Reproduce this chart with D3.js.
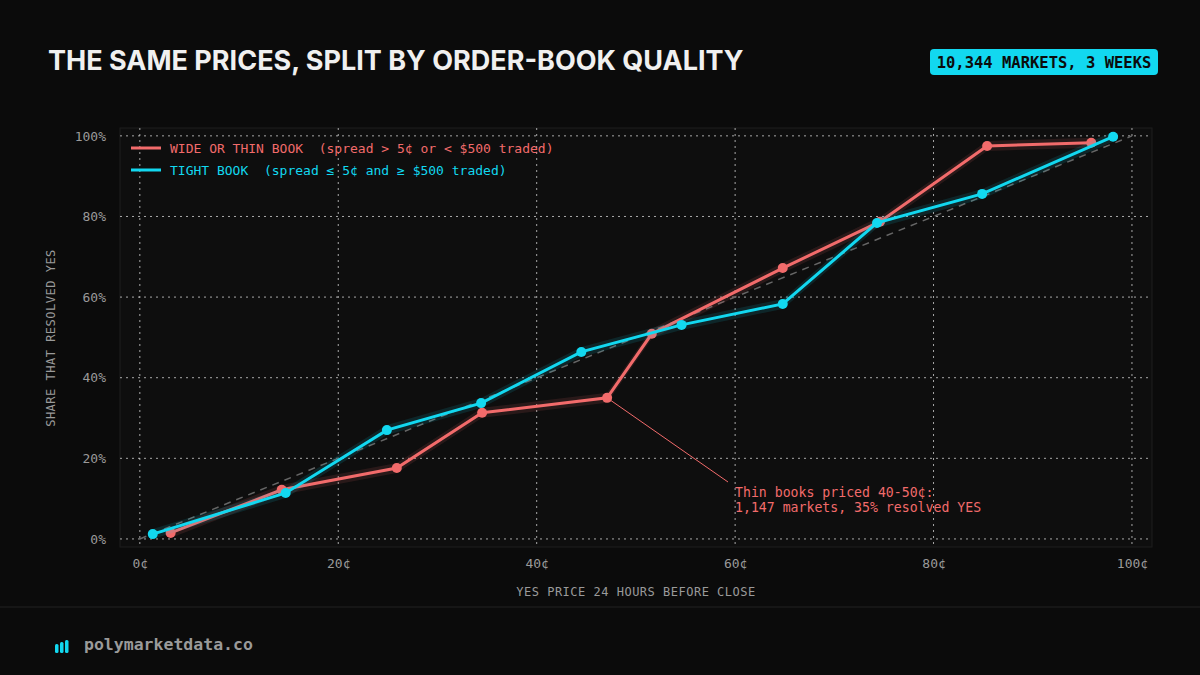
<!DOCTYPE html>
<html><head><meta charset="utf-8">
<script src="https://cdn.jsdelivr.net/npm/d3@7"></script>
<style>
body{margin:0;background:#0b0b0b;}
svg{display:block;font-family:"DejaVu Sans Mono",monospace;}
text{white-space:pre;}
</style></head><body>
<div id="chart"></div>
<script>
var W = 1200, H = 675;
var wideX = [3.1, 14.3, 25.9, 34.5, 47.1, 51.6, 64.8, 74.6, 85.4, 95.9];
var wideY = [1.5, 12.2, 17.6, 31.3, 35.0, 50.9, 67.2, 78.7, 97.5, 98.3];
var tightX = [1.3, 14.7, 24.9, 34.4, 44.5, 54.6, 64.8, 74.3, 84.9, 98.1];
var tightY = [1.2, 11.4, 27.0, 33.7, 46.4, 53.1, 58.3, 78.4, 85.6, 99.8];
var xTicks = [0, 20, 40, 60, 80, 100];
var yTicks = [0, 20, 40, 60, 80, 100];
var RED = "#f26b6b", CYAN = "#12d8f0";

var svg = d3.select("#chart").append("svg").attr("width", W).attr("height", H);
svg.append("rect").attr("width", W).attr("height", H).attr("fill", "#0b0b0b");

var x = d3.scaleLinear().domain([-2, 102]).range([120, 1151.8]);
var y = d3.scaleLinear().domain([-2, 102]).range([547, 127.8]);

svg.append("rect").attr("x", 120).attr("y", 128).attr("width", 1032).attr("height", 419)
   .attr("fill", "#0e0e0e").attr("stroke", "#1e1e1e");

// grid
svg.selectAll(".gx").data(xTicks).enter().append("line")
   .attr("x1", d => x(d)).attr("x2", d => x(d)).attr("y1", 128).attr("y2", 547)
   .attr("stroke", "#cfcfcf").attr("stroke-dasharray", "2,4").attr("stroke-opacity", 0.8);
svg.selectAll(".gy").data(yTicks).enter().append("line")
   .attr("y1", d => y(d)).attr("y2", d => y(d)).attr("x1", 120).attr("x2", 1152)
   .attr("stroke", "#cfcfcf").attr("stroke-dasharray", "2,4").attr("stroke-opacity", 0.8);

var xAxis = svg.append("g").attr("transform", "translate(0,547)")
   .call(d3.axisBottom(x).tickValues(xTicks).tickFormat(d => d + "¢").tickSize(0).tickPadding(12));
var yAxis = svg.append("g").attr("transform", "translate(120,0)")
   .call(d3.axisLeft(y).tickValues(yTicks).tickFormat(d => d + "%").tickSize(0).tickPadding(14));
[xAxis, yAxis].forEach(function(a) {
  a.select(".domain").remove();
  a.selectAll("text").attr("fill", "#9a9a9a").attr("font-size", 13).attr("font-family", "DejaVu Sans Mono");
});

svg.append("text").attr("x", 636).attr("y", 596).attr("text-anchor", "middle")
   .attr("fill", "#9a9a9a").attr("font-size", 12).attr("letter-spacing", 0.5).text("YES PRICE 24 HOURS BEFORE CLOSE");
svg.append("text").attr("transform", "translate(55,338)rotate(-90)").attr("text-anchor", "middle")
   .attr("fill", "#9a9a9a").attr("font-size", 12).attr("letter-spacing", 0.5).text("SHARE THAT RESOLVED YES");

// diagonal
svg.append("line").attr("x1", x(0)).attr("y1", y(0)).attr("x2", x(100)).attr("y2", y(100))
   .attr("stroke", "#666").attr("stroke-dasharray", "7,6").attr("stroke-width", 1.5);

function drawSeries(xs, ys, color) {
  var pts = xs.map((v, i) => [v, ys[i]]);
  var area = d3.area().x(d => x(d[0])).y0(d => y(d[1]) - 5).y1(d => y(d[1]) + 5);
  svg.append("path").datum(pts).attr("d", area).attr("fill", color).attr("fill-opacity", 0.12);
  svg.append("path").datum(pts).attr("d", d3.line().x(d => x(d[0])).y(d => y(d[1])))
     .attr("fill", "none").attr("stroke", color).attr("stroke-width", 3);
  svg.selectAll(null).data(pts).enter().append("circle")
     .attr("cx", d => x(d[0])).attr("cy", d => y(d[1])).attr("r", 5).attr("fill", color);
}
drawSeries(wideX, wideY, RED);
drawSeries(tightX, tightY, CYAN);

// annotation
svg.append("line").attr("x1", x(47.1)).attr("y1", y(35)).attr("x2", 728).attr("y2", 482)
   .attr("stroke", RED).attr("stroke-width", 1);
svg.append("text").attr("x", 735).attr("y", 497).attr("fill", RED).attr("font-size", 13.2).text("Thin books priced 40-50¢:");
svg.append("text").attr("x", 735).attr("y", 512).attr("fill", RED).attr("font-size", 13.2).text("1,147 markets, 35% resolved YES");

// legend
var legend = [["WIDE OR THIN BOOK  (spread > 5¢ or < $500 traded)", RED], ["TIGHT BOOK  (spread ≤ 5¢ and ≥ $500 traded)", CYAN]];
legend.forEach(function(l, i) {
  var ly = 148 + i * 22;
  svg.append("line").attr("x1", 131).attr("x2", 161).attr("y1", ly).attr("y2", ly).attr("stroke", l[1]).attr("stroke-width", 3);
  svg.append("text").attr("x", 170).attr("y", ly + 5).attr("fill", l[1]).attr("font-size", 13).text(l[0]);
});

// title
svg.append("text").attr("x", 48).attr("y", 70).attr("fill", "#f0f0f0").attr("font-size", 27)
   .attr("font-family", "Inter, 'Noto Sans', sans-serif").attr("font-weight", 700)
   .text("THE SAME PRICES, SPLIT BY ORDER-BOOK QUALITY");
svg.append("rect").attr("x", 930).attr("y", 49).attr("width", 228).attr("height", 26).attr("rx", 4).attr("fill", CYAN);
svg.append("text").attr("x", 1044).attr("y", 67.5).attr("text-anchor", "middle").attr("fill", "#0b0b0b")
   .attr("font-size", 15.5).attr("font-weight", 700).text("10,344 MARKETS, 3 WEEKS");

// footer
svg.append("line").attr("x1", 0).attr("x2", W).attr("y1", 607).attr("y2", 607).attr("stroke", "#222");
[0, 1, 2].forEach(function(i) {
  var h = 9 + i * 2;
  svg.append("rect").attr("x", 55 + i * 5).attr("y", 653 - h).attr("width", 3.5).attr("height", h).attr("rx", 1.5).attr("fill", CYAN);
});
svg.append("text").attr("x", 84).attr("y", 650).attr("fill", "#9a9a9a").attr("font-size", 16.5).attr("font-weight", 700).text("polymarketdata.co");
</script>
</body></html>
